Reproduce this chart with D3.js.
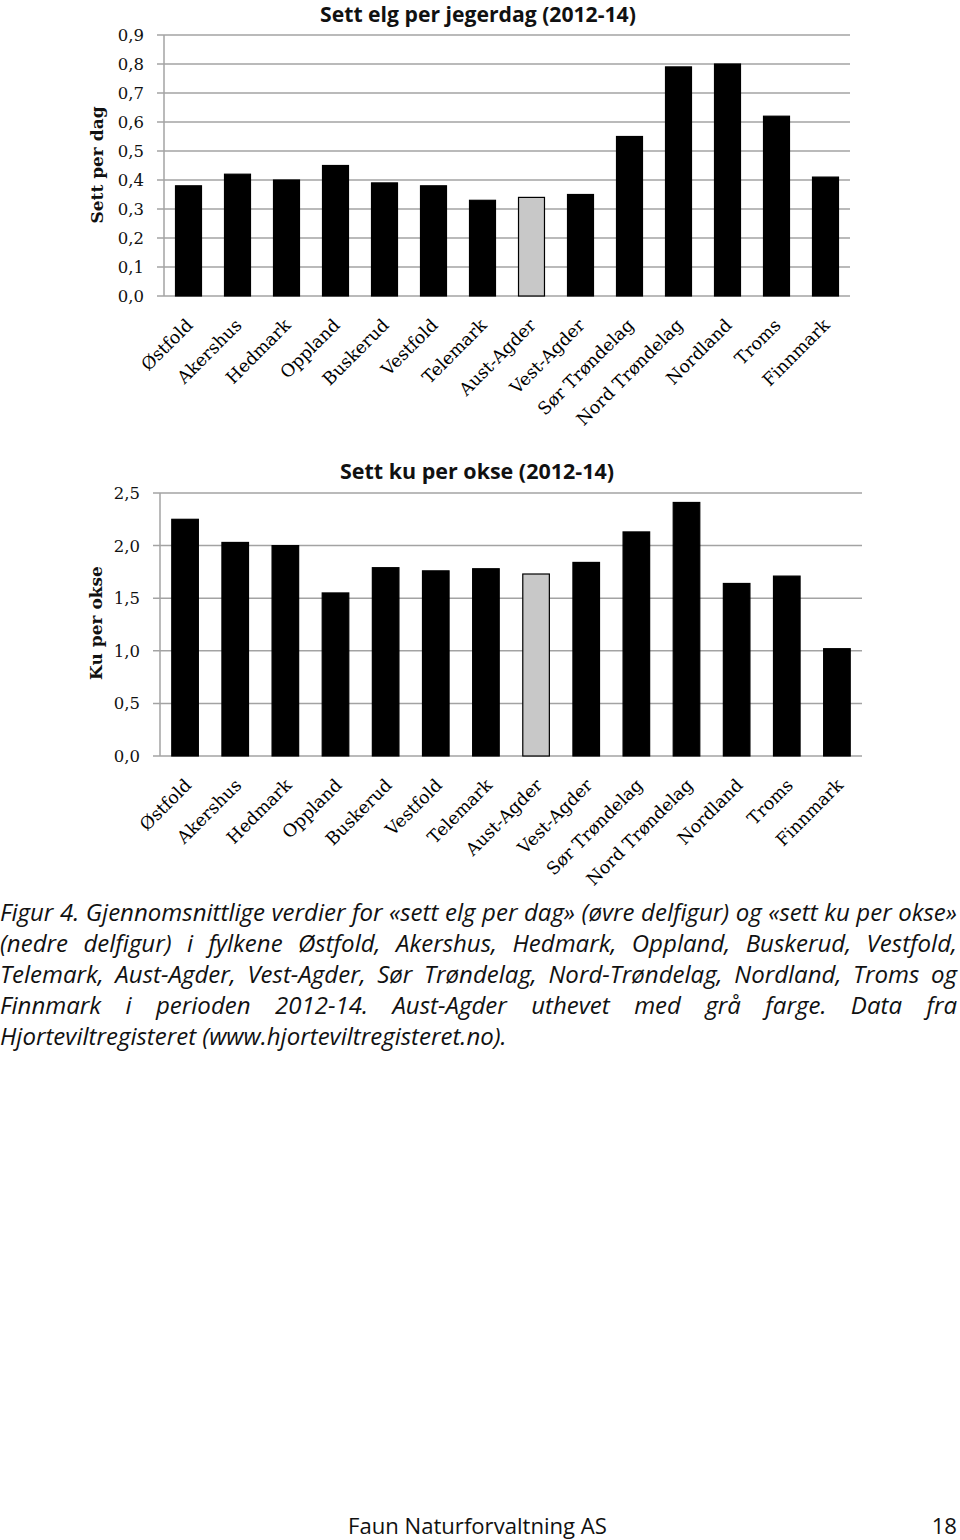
<!DOCTYPE html>
<html><head><meta charset="utf-8">
<script src="https://cdn.jsdelivr.net/npm/d3@7"></script>
<style>body{margin:0;background:#fff} svg{display:block}</style>
</head><body>
<script>
const categories = ["Østfold","Akershus","Hedmark","Oppland","Buskerud","Vestfold","Telemark","Aust-Agder","Vest-Agder","Sør Trøndelag","Nord Trøndelag","Nordland","Troms","Finnmark"];
const settPerDag = [0.38,0.42,0.40,0.45,0.39,0.38,0.33,0.34,0.35,0.55,0.79,0.80,0.62,0.41];
const kuPerOkse = [2.25,2.03,2.00,1.55,1.79,1.76,1.78,1.73,1.84,2.13,2.41,1.64,1.71,1.02];
const highlight = "Aust-Agder";
const ticksTop = [0,0.1,0.2,0.3,0.4,0.5,0.6,0.7,0.8,0.9];
const ticksBottom = [0,0.5,1.0,1.5,2.0,2.5];
const titleTop = "Sett elg per jegerdag (2012-14)";
const titleBottom = "Sett ku per okse (2012-14)";
const yLabelTop = "Sett per dag";
const yLabelBottom = "Ku per okse";
const captionLines = [
  "Figur 4. Gjennomsnittlige verdier for «sett elg per dag» (øvre delfigur) og «sett ku per okse»",
  "(nedre delfigur) i fylkene Østfold, Akershus, Hedmark, Oppland, Buskerud, Vestfold,",
  "Telemark, Aust-Agder, Vest-Agder, Sør Trøndelag, Nord-Trøndelag, Nordland, Troms og",
  "Finnmark i perioden 2012-14. Aust-Agder uthevet med grå farge. Data fra",
  "Hjorteviltregisteret (www.hjorteviltregisteret.no)."
];
const footerLeft = "Faun Naturforvaltning AS";
const footerRight = "18";

const W = 960, H = 1540;
const svg = d3.select("body").append("svg").attr("width", W).attr("height", H);
const serif = "'DejaVu Serif', serif";
const sans = "'Open Sans', Lato, sans-serif";
const fmt = v => d3.format(".1f")(v).replace(".", ",");
const gridColor = "#a3a3a3";

function fitSize(sel, target) {
  const s0 = +sel.attr("font-size");
  const w = sel.node().getComputedTextLength();
  const s = s0 * target / w;
  sel.attr("font-size", s);
  return s;
}

function drawChart(o) {
  const g = svg.append("g");
  const x = d3.scaleBand().domain(categories).range([o.x0, o.x1]).paddingInner(0.47).paddingOuter(0.235);
  const y = d3.scaleLinear().domain([0, o.max]).range([o.yb, o.yt]);
  g.selectAll("line.grid").data(o.ticks).join("line")
    .attr("x1", o.x0 - 7).attr("x2", o.x1)
    .attr("y1", d => y(d)).attr("y2", d => y(d))
    .attr("stroke", gridColor).attr("stroke-width", 1.5);
  g.append("line").attr("x1", o.x0).attr("x2", o.x0).attr("y1", y(o.max)).attr("y2", y(0))
    .attr("stroke", gridColor).attr("stroke-width", 1.5);
  g.selectAll("text.tick").data(o.ticks).join("text")
    .attr("x", o.x0 - 20).attr("y", d => y(d)).attr("dy", "0.36em")
    .attr("text-anchor", "end").attr("font-family", serif).attr("font-size", 16.5)
    .attr("fill", "#111").text(fmt);
  g.selectAll("rect.bar").data(o.values).join("rect")
    .attr("x", (d, i) => x(categories[i])).attr("width", x.bandwidth())
    .attr("y", d => y(d)).attr("height", d => y(0) - y(d))
    .attr("fill", (d, i) => categories[i] === highlight ? "#c8c8c8" : "#000")
    .attr("stroke", "#000").attr("stroke-width", 1.2);
  g.selectAll("text.cat").data(categories).join("text")
    .attr("transform", d => `translate(${x(d) + x.bandwidth() / 2 + o.labDx},${y(0) + 26}) rotate(-45)`)
    .attr("text-anchor", "end").attr("dy", "0.35em")
    .attr("font-family", serif).attr("font-size", 17.5).attr("fill", "#000").text(d => d);
  const t = g.append("text").attr("x", o.titleX).attr("y", o.titleY).attr("text-anchor", "middle")
    .attr("font-family", sans).attr("font-weight", "bold").attr("font-size", 20)
    .attr("fill", "#111").text(o.title);
  fitSize(t, o.titleW);
  g.append("text").attr("transform", `translate(${o.yLabelX},${o.yLabelY}) rotate(-90)`)
    .attr("text-anchor", "middle").attr("font-family", serif).attr("font-weight", "bold")
    .attr("font-size", 17).attr("fill", "#111").text(o.yLabel);
}

drawChart({x0: 164, x1: 850, yb: 296, yt: 35, max: 0.9, ticks: ticksTop, values: settPerDag, labDx: 1,
  title: titleTop, titleX: 478, titleY: 22, titleW: 316, yLabel: yLabelTop, yLabelX: 103, yLabelY: 165});
drawChart({x0: 160, x1: 862, yb: 756, yt: 493, max: 2.5, ticks: ticksBottom, values: kuPerOkse, labDx: 3,
  title: titleBottom, titleX: 477, titleY: 479, titleW: 274, yLabel: yLabelBottom, yLabelX: 102, yLabelY: 623});

const capG = svg.append("g").attr("font-family", sans).attr("font-style", "italic").attr("fill", "#111");
const probe = capG.append("text").attr("font-size", 20).text(captionLines[captionLines.length - 1]);
const capSize = fitSize(probe, 507);
probe.remove();
capG.attr("font-size", capSize);
captionLines.forEach((line, li) => {
  const yb = 921 + li * 31;
  const words = line.split(" ");
  const last = li === captionLines.length - 1;
  const nodes = words.map(w => capG.append("text").attr("y", yb).text(w));
  const widths = nodes.map(n => n.node().getComputedTextLength());
  const total = d3.sum(widths);
  const spaceW = capSize * 0.26;
  const gap = last ? spaceW : (957 - total) / (words.length - 1);
  let cx = 0;
  nodes.forEach((n, i) => { n.attr("x", cx); cx += widths[i] + gap; });
});

const fl = svg.append("text").attr("x", 348).attr("y", 1534).attr("font-family", sans).attr("font-size", 21)
  .attr("fill", "#111").text(footerLeft);
const fs = fitSize(fl, 259);
svg.append("text").attr("x", 957).attr("y", 1534).attr("text-anchor", "end").attr("font-family", sans)
  .attr("font-size", fs).attr("fill", "#111").text(footerRight);
</script>
</body></html>
